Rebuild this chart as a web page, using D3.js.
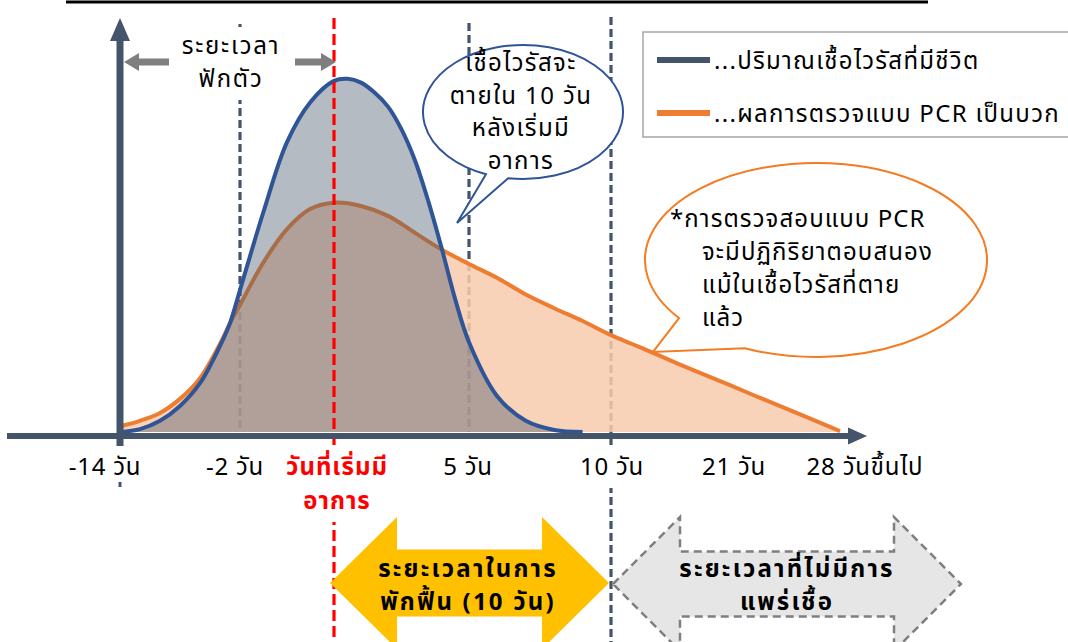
<!DOCTYPE html>
<html><head><meta charset="utf-8">
<script src="https://cdn.jsdelivr.net/npm/d3@7"></script>
<style>
html,body{margin:0;padding:0;background:#fff;}
svg{display:block;font-family:Tahoma,"Noto Sans Thai","Noto Sans Thai UI","Noto Sans",sans-serif;}
</style></head><body>
<svg id="c" width="1068" height="642"></svg>
<script>
// ---------- data ----------
const tickDays = [-14, -2, 0, 5, 10, 21, 28];
const tickLabels = [["-14 วัน"], ["-2 วัน"], ["วันที่เริ่มมี", "อาการ"], ["5 วัน"], ["10 วัน"], ["21 วัน"], ["28 วันขึ้นไป"]];
const liveDays   = [-14, -12, -10, -8, -6, -4, -3, -2, -1.5, -1, -0.5, 0, 0.5, 1, 1.5, 2, 2.5, 3, 3.5, 4, 4.5, 5, 6, 7, 8, 9];
const liveValues = [0, 0.7, 2.7, 6.3, 11.8, 20.8, 26.3, 34.3, 53.2, 70, 79.7, 84.8, 85.3, 84.4, 82, 78.6, 73.1, 65.6, 55.6, 44.1, 31.8, 21.7, 8.6, 2.7, 0.5, 0];
const pcrDays    = [-14, -12, -10, -8, -6, -4, -3, -2, -1.5, -1, -0.5, 0, 1, 2, 3, 4, 5, 6, 7, 8, 9, 10, 12, 14, 16, 18, 21, 23, 25, 28];
const pcrValues  = [1.4, 2.7, 4.6, 8, 13, 21.3, 26.3, 30.7, 41, 49, 53.9, 55.4, 54.6, 52.2, 48.1, 44, 40.6, 37.2, 33.2, 29.9, 26.8, 23.4, 21.2, 19, 16.7, 14.5, 11.3, 8.1, 5.0, 0.2];
const markerDays = [-2, 5, 10];
const onsetDay = 0;
const legendLabels = ["...ปริมาณเชื้อไวรัสที่มีชีวิต", "...ผลการตรวจแบบ PCR เป็นบวก"];
const incubationLabel = ["ระยะเวลา", "ฟักตัว"];
const blueNote = ["เชื้อไวรัสจะ", "ตายใน 10 วัน", "หลังเริ่มมี", "อาการ"];
const orangeNote = ["*การตรวจสอบแบบ PCR", "จะมีปฏิกิริยาตอบสนอง", "แม้ในเชื้อไวรัสที่ตาย", "แล้ว"];
const recoveryLabel = ["ระยะเวลาในการ", "พักฟื้น (10 วัน)"];
const noSpreadLabel = ["ระยะเวลาที่ไม่มีการ", "แพร่เชื้อ"];

// ---------- layout ----------
const tickPos = [120, 240, 334, 469, 611, 730, 840];
const C = {slate: "#44546a", blue: "#2f5597", orange: "#ed7d31", red: "#ff0000", yellow: "#ffc000", gray: "#7f7f7f"};
const x = d3.scaleLinear().domain(tickDays).range(tickPos);
const y = d3.scaleLinear().domain([0, 100]).range([432, 18]);
const axisY = 436;

const svg = d3.select("#c");
const FS = 24;

// top rule
svg.append("line").attr("x1", 66).attr("x2", 928).attr("y1", 2).attr("y2", 2)
  .attr("stroke", "#000").attr("stroke-width", 3);

// gray dashed markers (under areas)
const markerTop = {"-2": 24, "5": 23, "10": 17};
const markerBottom = {"-2": 432, "5": 432, "10": 642};
svg.append("g").selectAll("line").data(markerDays).join("line")
  .attr("x1", d => x(d)).attr("x2", d => x(d))
  .attr("y1", d => markerTop[d]).attr("y2", d => markerBottom[d])
  .attr("stroke", C.slate).attr("stroke-width", 3.2).attr("stroke-dasharray", "8,4");

// areas
const pcr = pcrDays.map((d, i) => ({d, v: pcrValues[i]}));
const live = liveDays.map((d, i) => ({d, v: liveValues[i]}));
const crv = d3.curveCatmullRom.alpha(0.5);
const area = d3.area().x(p => x(p.d)).y0(y(0)).y1(p => y(p.v)).curve(crv);
const line = d3.line().x(p => x(p.d)).y(p => y(p.v)).curve(crv);

svg.append("path").attr("d", area(pcr)).attr("fill", "#f8cbad").attr("fill-opacity", 0.85);
svg.append("path").attr("d", line(pcr)).attr("fill", "none").attr("stroke", C.orange).attr("stroke-width", 4);
svg.append("path").attr("d", area(live)).attr("fill", C.slate).attr("fill-opacity", 0.4);
svg.append("path").attr("d", line(live)).attr("fill", "none").attr("stroke", C.blue).attr("stroke-width", 4);

// red onset line
svg.append("line").attr("x1", x(onsetDay)).attr("x2", x(onsetDay)).attr("y1", 18).attr("y2", 642)
  .attr("stroke", C.red).attr("stroke-width", 3.2).attr("stroke-dasharray", "11,5");

// axes
svg.append("line").attr("x1", 7).attr("x2", 850).attr("y1", axisY).attr("y2", axisY)
  .attr("stroke", C.slate).attr("stroke-width", 6);
svg.append("path").attr("d", `M848,${axisY - 8.5}L867,${axisY}L848,${axisY + 8.5}Z`).attr("fill", C.slate);
svg.append("line").attr("x1", x(-14)).attr("x2", x(-14)).attr("y1", 446).attr("y2", 40)
  .attr("stroke", C.slate).attr("stroke-width", 7);
svg.append("path").attr("d", `M${x(-14) - 10},41L${x(-14)},18L${x(-14) + 10},41Z`).attr("fill", C.slate);
svg.append("line").attr("x1", x(-14)).attr("x2", x(-14)).attr("y1", 482).attr("y2", 487)
  .attr("stroke", C.slate).attr("stroke-width", 3);

// helper: text block with optional white background
function block(g, lines, cx, y0, lh, anchor, opts = {}) {
  const grp = g.append("g");
  const t = grp.append("text").attr("text-anchor", anchor)
    .attr("font-size", opts.fs || FS).attr("font-weight", opts.bold ? "bold" : "normal")
    .attr("letter-spacing", opts.ls == null ? 1 : opts.ls)
    .attr("fill", opts.color || "#000");
  lines.forEach((l, i) => t.append("tspan").attr("x", cx).attr("y", y0 + i * lh).text(l));
  if (opts.bg) {
    const b = t.node().getBBox();
    grp.insert("rect", "text").attr("x", b.x - 2).attr("y", b.y - 2)
      .attr("width", b.width + 4).attr("height", b.height + 4).attr("fill", "#fff");
  }
  return grp;
}

// tick labels
const tickDx = [-15, -5, 3, -1, 1, 4, 25];
const tl = svg.append("g");
tickDays.forEach((d, i) => {
  const onset = d === onsetDay;
  block(tl, tickLabels[i], x(d) + tickDx[i], 475, 34, "middle",
    {bg: onset || d === 10, bold: onset, color: onset ? C.red : "#000", ls: onset ? 1 : 0.8});
});

// incubation label with arrows
block(svg, incubationLabel, 231, 54, 33, "middle", {bg: true, ls: 1.8});
svg.append("path").attr("d", "M124,62L139,53L139,58.5L169,58.5L169,65.5L139,65.5L139,71Z").attr("fill", C.gray);
svg.append("path").attr("d", "M336,62L321,53L321,58.5L295,58.5L295,65.5L321,65.5L321,71Z").attr("fill", C.gray);

// speech bubbles
function bubble(cx, cy, rx, ry, a1, a2, tip) {
  const p1 = [cx + rx * Math.cos(a1), cy + ry * Math.sin(a1)];
  const p2 = [cx + rx * Math.cos(a2), cy + ry * Math.sin(a2)];
  return `M${p1}L${tip}L${p2}A${rx},${ry} 0 1 0 ${p1}Z`;
}
svg.append("path").attr("d", bubble(523, 112, 100, 67, 1.95, 1.72, [457, 223]))
  .attr("fill", "#fff").attr("stroke", C.blue).attr("stroke-width", 2);
block(svg, blueNote, 521, 71, 32.5, "middle", {ls: 1.4});

svg.append("path").attr("d", bubble(816, 260, 171, 97, 2.5, 2.0, [653, 352]))
  .attr("fill", "#fff").attr("stroke", "#f47b20").attr("stroke-width", 2);
const on = svg.append("text").attr("font-size", FS).attr("letter-spacing", 1.1);
orangeNote.forEach((l, i) => on.append("tspan").attr("x", i === 0 ? 670 : 702).attr("y", 227 + i * 33).text(l));

// legend
svg.append("rect").attr("x", 643).attr("y", 32).attr("width", 460).attr("height", 105)
  .attr("fill", "#fff").attr("stroke", "#a6a6a6").attr("stroke-width", 1.5);
[C.slate, C.orange].forEach((c, i) => {
  svg.append("line").attr("x1", 657).attr("x2", 710).attr("y1", 60 + i * 53).attr("y2", 60 + i * 53)
    .attr("stroke", c).attr("stroke-width", 6);
  svg.append("text").attr("x", 714).attr("y", 69 + i * 53).attr("font-size", FS)
    .attr("letter-spacing", 1.3).text(legendLabels[i]);
});

// bottom double arrows
function dbl(x0, x1, cy, hl, hh, sh) {
  return `M${x0},${cy}L${x0 + hl},${cy - hh}L${x0 + hl},${cy - sh}L${x1 - hl},${cy - sh}L${x1 - hl},${cy - hh}` +
    `L${x1},${cy}L${x1 - hl},${cy + hh}L${x1 - hl},${cy + sh}L${x0 + hl},${cy + sh}L${x0 + hl},${cy + hh}Z`;
}
svg.append("path").attr("d", dbl(x(onsetDay) - 4, x(10) - 2, 583, 67, 66, 33.5)).attr("fill", C.yellow);
block(svg, recoveryLabel, 468, 577, 33, "middle", {bold: true, ls: 2.2});
svg.append("path").attr("d", dbl(x(10) + 2, 961, 584, 67, 67, 32.5))
  .attr("fill", "#e6e6e6").attr("stroke", C.gray).attr("stroke-width", 2.5).attr("stroke-dasharray", "8,5");
block(svg, noSpreadLabel, 787, 577, 33, "middle", {bold: true, ls: 2.2});
</script>
</body></html>
